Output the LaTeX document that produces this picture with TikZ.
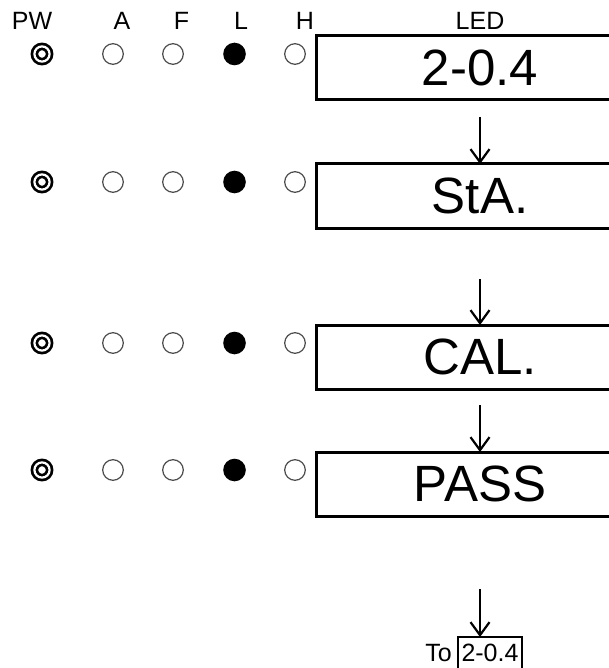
\documentclass[tikz,border=0pt]{standalone}
\usepackage{fontspec}
\setmainfont{Liberation Sans}
\usepackage{tikz}
\usetikzlibrary{arrows.meta,positioning}

\begin{document}
\begin{tikzpicture}[
x=1pt, y=-1pt,
font=\fontsize{25}{30}\selectfont,
lcd/.style={draw, line width=3pt, outer sep=0pt, minimum width=328pt, minimum height=64pt, font=\fontsize{51}{60}\selectfont},
smallbox/.style={draw, line width=2.2pt, outer sep=0pt, inner xsep=3.5pt, inner ysep=6pt, text height=18pt, text depth=5pt},
pwled/.style={circle, draw, line width=2.7pt, double, double distance=2.2pt, minimum size=15.2pt, inner sep=0pt},
offled/.style={circle, draw=black!70, line width=1.2pt, minimum size=20.6pt, inner sep=0pt},
onled/.style={circle, fill=black, minimum size=22.6pt, inner sep=0pt},
arrow/.style={-{Straight Barb[length=13pt,width=19pt]}, line width=2.2pt}
]
\useasboundingbox (0,0) rectangle (609,668);
% column heads
\node[anchor=base] (hpw) at (32,30) {PW};
\node[anchor=base] (ha) at (122,30) {A};
\node[anchor=base] (hf) at (181.5,30) {F};
\node[anchor=base] (hl) at (241,30) {L};
\node[anchor=base] (hh) at (305,30) {H};
\node[anchor=base] (hled) at (480,30) {LED};
% display steps
\node[lcd] (lcd1) at (480,68) {2-0.4};
\node[lcd, below=64pt of lcd1] (lcd2) {StA.};
\node[lcd, below=97pt of lcd2] (lcd3) {CAL.};
\node[lcd, below=63pt of lcd3] (lcd4) {PASS};
\node[smallbox, anchor=north west] (back) at (458,637) {2-0.4};
\node[anchor=base east, inner sep=0pt] (to) at ([xshift=-6pt]back.base west) {To};
% lamps
\foreach \r/\y in {1/54,2/182,3/343,4/470} {
  \node[pwled] (pw\r) at (42,\y) {};
  \node[offled] (a\r) at (113,\y) {};
  \node[offled] (f\r) at (173,\y) {};
  \node[onled] (l\r) at (234.5,\y) {};
  \node[offled] (h\r) at (295,\y) {};
}
\coordinate (tip) at (lcd4.south |- back.north);
\draw[arrow, shorten <=17pt] (lcd1) -- (lcd2);
\draw[arrow, shorten <=51pt] (lcd2) -- (lcd3);
\draw[arrow, shorten <=16pt] (lcd3) -- (lcd4);
\draw[arrow, shorten <=73pt] (lcd4) -- (tip);
\end{tikzpicture}
\end{document}
